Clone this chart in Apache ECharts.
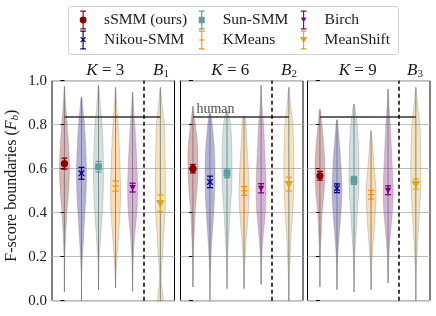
<!DOCTYPE html>
<html><head><meta charset="utf-8">
<script src="https://cdn.jsdelivr.net/npm/echarts@6/dist/echarts.min.js"></script>
<style>html,body{margin:0;padding:0;background:#fff}#c{width:436px;height:316px}</style>
</head><body><div id="c"></div>
<script>
// ---- data ----
const methods = ['sSMM (ours)', 'Nikou-SMM', 'Sun-SMM', 'KMeans', 'Birch', 'MeanShift'];
const panelK = ['3', '6', '9'];
const baselineIdx = ['1', '2', '3'];
const positions = [0, 1, 2, 3, 4, 5.63];
const dividerPos = 4.65;
const humanScore = 0.835;

const meanK3 = [0.623, 0.579, 0.609, 0.521, 0.514, 0.443];
const errK3 = [0.025, 0.027, 0.024, 0.023, 0.020, 0.038];
const meanK6 = [0.600, 0.540, 0.579, 0.499, 0.511, 0.530];
const errK6 = [0.019, 0.026, 0.020, 0.020, 0.021, 0.031];
const meanK9 = [0.568, 0.511, 0.547, 0.482, 0.502, 0.530];
const errK9 = [0.020, 0.020, 0.018, 0.020, 0.020, 0.023];

const minK3 = [0.040, 0.000, 0.050, 0.058, 0.043, 0.000];
const maxK3 = [0.975, 0.925, 0.980, 0.970, 0.948, 0.970];
const minK6 = [0.062, 0.000, 0.055, 0.055, 0.073, 0.000];
const maxK6 = [0.884, 0.853, 0.860, 0.840, 0.980, 0.970];
const minK9 = [0.062, 0.050, 0.040, 0.050, 0.080, 0.000];
const maxK9 = [0.870, 0.823, 0.894, 0.773, 0.962, 0.970];

// relative violin width at levels 0.0, 0.1, ..., 1.0
const densityLevels = [0, 0.1, 0.2, 0.3, 0.4, 0.5, 0.6, 0.7, 0.8, 0.9, 1.0];
const densityK3 = [
  [0, 0.02, 0.08, 0.25, 0.5, 0.85, 1.0, 0.85, 0.55, 0.22, 0],
  [0, 0.03, 0.2, 0.45, 0.7, 0.95, 1.0, 0.85, 0.6, 0.2, 0],
  [0, 0.02, 0.15, 0.45, 0.75, 0.95, 1.0, 0.9, 0.7, 0.3, 0.05],
  [0, 0.05, 0.3, 0.6, 0.9, 1.0, 0.9, 0.75, 0.5, 0.2, 0.02],
  [0, 0.03, 0.15, 0.45, 0.85, 1.0, 0.9, 0.7, 0.45, 0.15, 0],
  [0.6, 0.15, 0.4, 0.65, 0.95, 1.0, 1.0, 0.9, 0.8, 0.3, 0]
];
const densityK6 = [
  [0, 0.02, 0.08, 0.25, 0.45, 0.8, 1.0, 0.95, 0.5, 0, 0],
  [0, 0.05, 0.2, 0.45, 0.75, 0.95, 1.0, 0.85, 0.45, 0, 0],
  [0, 0.02, 0.12, 0.35, 0.6, 0.9, 1.0, 0.95, 0.7, 0, 0],
  [0, 0.04, 0.2, 0.5, 0.85, 1.0, 0.85, 0.6, 0.4, 0, 0],
  [0, 0.03, 0.15, 0.45, 0.85, 1.0, 0.9, 0.7, 0.5, 0.15, 0],
  [0.02, 0.08, 0.25, 0.45, 0.75, 0.95, 1.0, 0.95, 0.8, 0.3, 0]
];
const densityK9 = [
  [0, 0.02, 0.08, 0.25, 0.45, 0.85, 1.0, 0.8, 0.4, 0, 0],
  [0, 0.04, 0.15, 0.45, 0.8, 1.0, 0.85, 0.55, 0.2, 0, 0],
  [0, 0.02, 0.12, 0.4, 0.65, 0.95, 1.0, 0.9, 0.65, 0.1, 0],
  [0, 0.04, 0.2, 0.55, 0.85, 1.0, 0.65, 0.3, 0, 0, 0],
  [0, 0.03, 0.15, 0.45, 0.85, 1.0, 0.85, 0.65, 0.45, 0.15, 0],
  [0, 0.05, 0.2, 0.45, 0.7, 0.95, 1.0, 0.95, 0.8, 0.3, 0]
];

const means = [meanK3, meanK6, meanK9];
const errs = [errK3, errK6, errK9];
const mins = [minK3, minK6, minK9];
const maxs = [maxK3, maxK6, maxK9];
const dens = [densityK3, densityK6, densityK9];

// ---- style ----
const colors = ['#8b0000', '#00008b', '#5f9ea0', '#ff8c00', '#800080', '#daa520'];
const SERIF = 'Liberation Serif';
const TXT = '#1a1a1a';
const gridLefts = [52, 180.5, 307.5];
const gridWidth = 122.5, gridTop = 80.7, gridHeight = 220;
const maxHalf = 0.29;

function rgba(hex, a) {
  const n = parseInt(hex.slice(1), 16);
  return 'rgba(' + (n >> 16 & 255) + ',' + (n >> 8 & 255) + ',' + (n & 255) + ',' + a + ')';
}
function profileAt(prof, y) {
  const t = y / 0.1; let k = Math.floor(t);
  if (k >= prof.length - 1) return prof[prof.length - 1];
  if (k < 0) return prof[0];
  const f = t - k, last = prof.length - 1;
  const p0 = prof[Math.max(k - 1, 0)], p1 = prof[k], p2 = prof[Math.min(k + 1, last)], p3 = prof[Math.min(k + 2, last)];
  const v = 0.5 * (2 * p1 + (-p0 + p2) * f + (2 * p0 - 5 * p1 + 4 * p2 - p3) * f * f + (-p0 + 3 * p1 - 3 * p2 + p3) * f * f * f);
  return Math.max(0, v);
}

function violinRender(p) {
  return function (params, api) {
    const pos = api.value(0), i = api.value(1);
    const lo = mins[p][i], hi = maxs[p][i], prof = dens[p][i];
    const list = [];
    const n = Math.max(2, Math.round((hi - lo) / 0.01));
    for (let k = 0; k <= n; k++) {
      const y = lo + (hi - lo) * k / n;
      let w = profileAt(prof, y);
      if (k === n) w = 0;
      list.push([y, w]);
    }
    const right = list.map(([y, w]) => api.coord([pos + w * maxHalf, y]));
    const left = list.slice().reverse().map(([y, w]) => api.coord([pos - w * maxHalf, y]));
    const c0 = api.coord([pos, lo]), c1 = api.coord([pos, hi]);
    return {
      type: 'group', children: [
        { type: 'polygon', shape: { points: right.concat(left) },
          style: { fill: rgba(colors[i], 0.3), stroke: 'rgba(120,120,120,0.45)', lineWidth: 0.7 } },
        { type: 'line', shape: { x1: c0[0], y1: c0[1], x2: c1[0], y2: c1[1] },
          style: { stroke: 'rgba(120,120,120,0.85)', lineWidth: 1 } }
      ]
    };
  };
}

function marker(i, x, y, col) {
  switch (i) {
    case 0: return { type: 'circle', shape: { cx: x, cy: y, r: 3.6 }, style: { fill: col } };
    case 1: return { type: 'group', children: [
      { type: 'line', shape: { x1: x - 2.8, y1: y - 2.8, x2: x + 2.8, y2: y + 2.8 }, style: { stroke: col, lineWidth: 1.3 } },
      { type: 'line', shape: { x1: x - 2.8, y1: y + 2.8, x2: x + 2.8, y2: y - 2.8 }, style: { stroke: col, lineWidth: 1.3 } }] };
    case 2: return { type: 'rect', shape: { x: x - 3.4, y: y - 3.4, width: 6.8, height: 6.8 }, style: { fill: col } };
    case 3: return { type: 'line', shape: { x1: x - 3, y1: y, x2: x + 3, y2: y }, style: { stroke: col, lineWidth: 1.3 } };
    case 4: return { type: 'polygon', shape: { points: [[x - 3.2, y - 2.6], [x + 3.2, y - 2.6], [x, y + 3.2]] }, style: { fill: col } };
    default: return { type: 'polygon', shape: { points: [[x - 4.2, y - 3.2], [x + 4.2, y - 3.2], [x, y + 4.2]] }, style: { fill: col } };
  }
}
function errRender(i) {
  return function (params, api) {
    const x = api.value(0), m = api.value(1), e = api.value(2);
    const c = api.coord([x, m]), t = api.coord([x, m + e]), b = api.coord([x, m - e]);
    const col = colors[i];
    const st = { stroke: col, lineWidth: 1.3 };
    return { type: 'group', children: [
      { type: 'line', shape: { x1: c[0], y1: t[1], x2: c[0], y2: b[1] }, style: st },
      { type: 'line', shape: { x1: c[0] - 3, y1: t[1], x2: c[0] + 3, y2: t[1] }, style: st },
      { type: 'line', shape: { x1: c[0] - 3, y1: b[1], x2: c[0] + 3, y2: b[1] }, style: st },
      marker(i, c[0], c[1], col)
    ] };
  };
}

// legend icons (10 x 20 box): error bar + marker
const bar = 'M4.4 1 L5.6 1 L5.6 19 L4.4 19 Z M2 0 L8 0 L8 1.3 L2 1.3 Z M2 18.7 L8 18.7 L8 20 L2 20 Z ';
const icons = [
  'path://' + bar + 'M8.6 10 A3.6 3.6 0 1 1 1.4 10 A3.6 3.6 0 1 1 8.6 10 Z',
  'path://' + bar + 'M2 7.6 L2.9 6.7 L8 11.8 L7.1 12.7 Z M7.1 6.7 L8 7.6 L2.9 12.7 L2 11.8 Z',
  'path://' + bar + 'M1.8 6.6 L8.2 6.6 L8.2 13.4 L1.8 13.4 Z',
  'path://' + bar + 'M2 9.4 L8 9.4 L8 10.6 L2 10.6 Z',
  'path://' + bar + 'M2 7.4 L8 7.4 L5 12.6 Z',
  'path://' + bar + 'M1.2 6.8 L8.8 6.8 L5 13.4 Z'
];

const grids = [], xAxes = [], yAxes = [], series = [];
for (let p = 0; p < 3; p++) {
  grids.push({ left: gridLefts[p], top: gridTop, width: gridWidth, height: gridHeight,
    show: true, borderColor: '#000', borderWidth: 1, backgroundColor: 'transparent' });
  xAxes.push({ type: 'value', gridIndex: p, min: -0.73, max: 6.46, show: false });
  yAxes.push({
    type: 'value', gridIndex: p, min: 0, max: 1, interval: 0.2,
    axisLine: { show: false },
    axisTick: { show: true, length: 4, lineStyle: { color: '#000', width: 1 } },
    axisLabel: { show: p === 0, margin: 5, formatter: v => v.toFixed(1),
      fontFamily: SERIF, fontSize: 15, color: TXT },
    splitLine: { show: true, lineStyle: { color: '#bdbdbd', width: 1 } },
    name: p === 0 ? '{n|F-score boundaries (}{i|F}{s|b}{n|)}' : '',
    nameLocation: 'middle', nameGap: 31, nameRotate: 90,
    nameTextStyle: { fontFamily: SERIF, fontSize: 16, color: TXT, padding: [0, 0, 0, 10],
      rich: { n: { fontFamily: SERIF, fontSize: 16, color: TXT, lineHeight: 19 },
              i: { fontFamily: SERIF, fontSize: 16, fontStyle: 'italic', color: TXT, lineHeight: 19 },
              s: { fontFamily: SERIF, fontSize: 11, fontStyle: 'italic', color: TXT, verticalAlign: 'bottom', lineHeight: 13 } } }
  });
  series.push({
    type: 'custom', xAxisIndex: p, yAxisIndex: p, silent: true, z: 1,
    data: methods.map((m, i) => [positions[i], i]),
    renderItem: violinRender(p)
  });
  series.push({
    type: 'line', xAxisIndex: p, yAxisIndex: p, silent: true, z: 3, symbol: 'none',
    data: [[positions[0], humanScore], [positions[5], humanScore]],
    lineStyle: { color: '#333', width: 1.3 },
    markLine: { silent: true, symbol: ['none', 'none'], label: { show: false },
      lineStyle: { color: '#000', type: [4, 3], width: 1.5 },
      data: [{ xAxis: dividerPos }] }
  });
  methods.forEach((m, i) => {
    series.push({
      type: 'custom', name: m, xAxisIndex: p, yAxisIndex: p, z: 5,
      itemStyle: { color: colors[i] },
      data: [[positions[i], means[p][i], errs[p][i]]],
      renderItem: errRender(i)
    });
  });
  if (p === 1) {
    series.push({
      type: 'scatter', xAxisIndex: p, yAxisIndex: p, silent: true, z: 4, symbolSize: 1,
      itemStyle: { color: 'rgba(0,0,0,0)' },
      data: [[positions[0], humanScore]],
      label: { show: true, formatter: 'human', position: 'right', distance: 3, offset: [0, -8],
        fontFamily: SERIF, fontSize: 14, color: TXT }
    });
  }
}

const legendBase = {
  orient: 'vertical', itemWidth: 10, itemHeight: 19, itemGap: 1, selectedMode: false, padding: 0,
  formatter: name => '{g|}{t|' + name + '}',
  textStyle: { fontFamily: SERIF, fontSize: 15.5, color: TXT,
    rich: { g: { width: 11, height: 10 }, t: { fontFamily: SERIF, fontSize: 15.5, color: TXT } } },
  top: 10.5
};
const legendCols = [[0, 1, 79.7], [2, 3, 198.7], [4, 5, 300]];
const legends = legendCols.map(([a, b, left]) => Object.assign({}, legendBase, {
  left: left, data: [{ name: methods[a], icon: icons[a] }, { name: methods[b], icon: icons[b] }]
}));

const titleRich = {
  i: { fontFamily: SERIF, fontSize: 17, fontStyle: 'italic', fill: TXT, color: TXT },
  n: { fontFamily: SERIF, fontSize: 17, fill: TXT, color: TXT },
  s: { fontFamily: SERIF, fontSize: 11, fill: TXT, color: TXT, verticalAlign: 'bottom', lineHeight: 14 }
};
const kCenters = [105.3, 230.3, 357.7];
const bCenters = [161, 289, 415];
const graphics = [{
  type: 'rect', z: 0, shape: { x: 68.5, y: 6.5, width: 330, height: 48, r: 3 },
  style: { fill: '#fff', stroke: '#d0d0d0', lineWidth: 1 }
}];
for (let p = 0; p < 3; p++) {
  graphics.push({ type: 'text', z: 10, x: kCenters[p], y: 71,
    style: { text: '{i|K}{n| = ' + panelK[p] + '}', rich: titleRich, align: 'center', verticalAlign: 'middle',
      textAlign: 'center', textVerticalAlign: 'middle', fontFamily: SERIF, fontSize: 17, fill: TXT } });
  graphics.push({ type: 'text', z: 10, x: bCenters[p], y: 71,
    style: { text: '{i|B}{s|' + baselineIdx[p] + '}', rich: titleRich, align: 'center', verticalAlign: 'middle',
      textAlign: 'center', textVerticalAlign: 'middle', fontFamily: SERIF, fontSize: 17, fill: TXT } });
}

const chart = echarts.init(document.getElementById('c'), null, { renderer: 'canvas' });
chart.setOption({
  animation: false,
  backgroundColor: '#fff',
  grid: grids, xAxis: xAxes, yAxis: yAxes,
  legend: legends,
  graphic: { elements: graphics },
  series: series
});
</script></body></html>
